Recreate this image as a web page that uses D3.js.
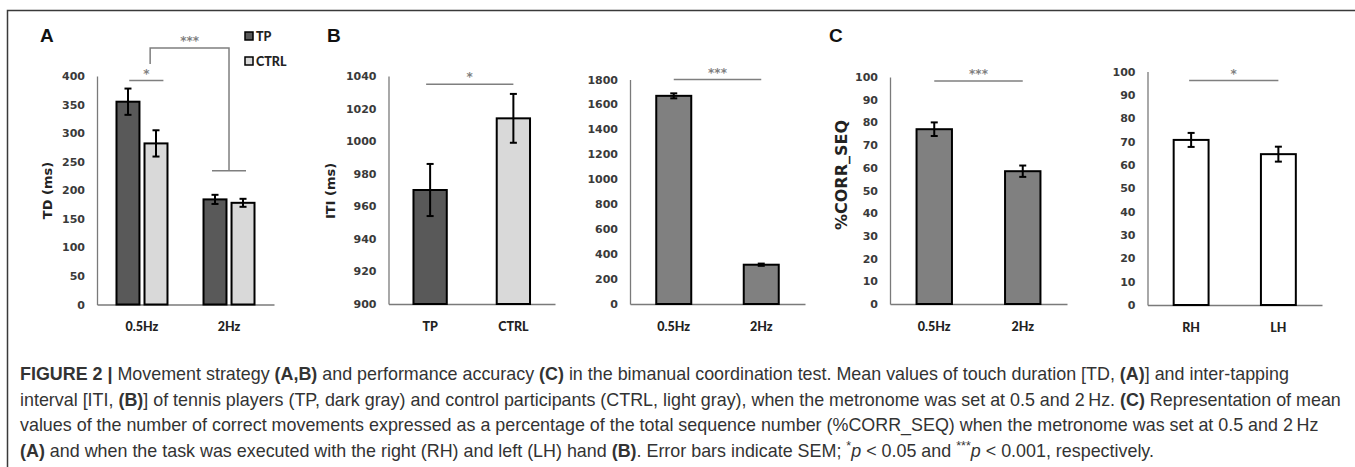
<!DOCTYPE html>
<html>
<head>
<meta charset="utf-8">
<script src="https://cdn.jsdelivr.net/npm/d3@7/dist/d3.min.js"></script>
<style>
body { margin: 0; background: #fff; }
</style>
</head>
<body>
<svg id="fig"></svg>
<script>
// panel A: touch duration
var tdGroups = ["0.5Hz", "2Hz"];
var tdSeries = ["TP", "CTRL"];
var tdTP = [355, 184];
var tdTPSem = [23, 8];
var tdCTRL = [282, 178];
var tdCTRLSem = [23, 7];
var tdTicks = [0, 50, 100, 150, 200, 250, 300, 350, 400];

// panel B: inter-tapping interval
var itiGroups = ["TP", "CTRL"];
var itiGroupVals = [970, 1014];
var itiGroupSem = [16, 15];
var itiGroupTicks = [900, 920, 940, 960, 980, 1000, 1020, 1040];

var itiFreqs = ["0.5Hz", "2Hz"];
var itiFreqVals = [1669, 315];
var itiFreqSem = [20, 9];
var itiFreqTicks = [0, 200, 400, 600, 800, 1000, 1200, 1400, 1600, 1800];

// panel C: % correct sequences
var corrFreqs = ["0.5Hz", "2Hz"];
var corrFreqVals = [77, 58.5];
var corrFreqSem = [3, 2.5];
var corrHands = ["RH", "LH"];
var corrHandVals = [70.7, 64.6];
var corrHandSem = [3, 3.2];
var pctTicks = [0, 10, 20, 30, 40, 50, 60, 70, 80, 90, 100];

var colors = {TP: "#595959", CTRL: "#d9d9d9", mid: "#808080", white: "#ffffff"};
var sigColor = "#7f7f7f";
var tickFont = "DejaVu Sans, sans-serif";
var catFont = "Lato, sans-serif";

var width = 1355, height = 467;
var svg = d3.select("#fig")
    .attr("width", width)
    .attr("height", height);

// frame round the figure
svg.append("path")
    .attr("d", "M7.5," + height + "V10.5H" + width)
    .attr("fill", "none")
    .attr("stroke", "#3a3a3a")
    .attr("stroke-width", 1.5);

function drawAxes(g, x, y, ticks, bottom) {
    var ya = g.append("g")
        .attr("transform", "translate(" + x.range()[0] + ",0)")
        .call(d3.axisLeft(y).tickValues(ticks).tickFormat(d3.format("d"))
            .tickSize(0).tickSizeOuter(0).tickPadding(12));
    ya.select(".domain").attr("stroke", "#7a7a7a").attr("stroke-width", 1.3);
    ya.selectAll("text")
        .attr("font-family", tickFont)
        .attr("font-weight", "bold")
        .attr("font-size", 11)
        .attr("fill", "#3a3a3a");

    var xa = g.append("g")
        .attr("transform", "translate(0," + bottom + ")")
        .call(d3.axisBottom(x).tickSize(0).tickSizeOuter(0).tickPadding(18));
    xa.select(".domain").attr("stroke", "#7a7a7a").attr("stroke-width", 1.3);
    xa.selectAll("text")
        .attr("font-family", catFont)
        .attr("font-weight", "900")
        .attr("font-size", 12.5)
        .attr("fill", "#222");
}

function errorBar(g, cx, y, v, s) {
    g.append("line")
        .attr("x1", cx).attr("x2", cx)
        .attr("y1", y(v - s)).attr("y2", y(v + s))
        .attr("stroke", "#000").attr("stroke-width", 2);
    [v - s, v + s].forEach(function (e) {
        g.append("line")
            .attr("x1", cx - 3.5).attr("x2", cx + 3.5)
            .attr("y1", y(e)).attr("y2", y(e))
            .attr("stroke", "#000").attr("stroke-width", 2);
    });
}

function sigLine(g, x1, x2, yy, stars) {
    g.append("line")
        .attr("x1", x1).attr("x2", x2)
        .attr("y1", yy).attr("y2", yy)
        .attr("stroke", sigColor).attr("stroke-width", 1.5);
    g.append("text")
        .attr("x", (x1 + x2) / 2)
        .attr("y", yy - 3)
        .attr("text-anchor", "middle")
        .attr("font-family", tickFont)
        .attr("font-weight", "bold")
        .attr("font-size", 12)
        .attr("fill", sigColor)
        .text(stars);
}

function yLabel(text, cx, cy, size) {
    svg.append("text")
        .attr("transform", "translate(" + cx + "," + cy + ") rotate(-90)")
        .attr("text-anchor", "middle")
        .attr("dominant-baseline", "central")
        .attr("font-family", tickFont)
        .attr("font-weight", "bold")
        .attr("font-size", size)
        .attr("fill", "#222")
        .text(text);
}

function panelLetter(text, px) {
    svg.append("text")
        .attr("x", px).attr("y", 42)
        .attr("font-family", "Liberation Sans, Arial, sans-serif")
        .attr("font-weight", "bold")
        .attr("font-size", 19)
        .attr("fill", "#111")
        .text(text);
}

// simple two-bar panel
function simplePanel(cats, vals, sem, ticks, box, fill, sig) {
    var g = svg.append("g");
    var y = d3.scaleLinear()
        .domain([ticks[0], ticks[ticks.length - 1]])
        .range([box.bottom, box.top]);
    var x = d3.scaleBand()
        .domain(cats)
        .range([box.left, box.right])
        .paddingInner(0.6)
        .paddingOuter(0.3);
    drawAxes(g, x, y, ticks, box.bottom);
    var bw = x.bandwidth();
    g.selectAll("rect.bar")
        .data(vals)
        .enter().append("rect")
        .attr("class", "bar")
        .attr("x", function (d, i) { return x(cats[i]); })
        .attr("y", function (d) { return y(d); })
        .attr("width", bw)
        .attr("height", function (d) { return y(ticks[0]) - y(d); })
        .attr("fill", function (d, i) { return Array.isArray(fill) ? fill[i] : fill; })
        .attr("stroke", "#000")
        .attr("stroke-width", 2);
    vals.forEach(function (v, i) {
        errorBar(g, x(cats[i]) + bw / 2, y, v, sem[i]);
    });
    sigLine(g, x(cats[0]) + bw / 2 + sig.off, x(cats[1]) + bw / 2, y(sig.at), sig.stars);
}

// ---- panel A (grouped) ----
(function () {
    var g = svg.append("g");
    var box = {left: 97, right: 274, top: 76, bottom: 304.5};
    var y = d3.scaleLinear()
        .domain([tdTicks[0], tdTicks[tdTicks.length - 1]])
        .range([box.bottom, box.top]);
    var x0 = d3.scaleBand()
        .domain(tdGroups)
        .range([box.left, box.right])
        .paddingInner(0.414)
        .paddingOuter(0.224);
    var x1 = d3.scaleBand()
        .domain(tdSeries)
        .range([0, x0.bandwidth()])
        .paddingInner(0.18);
    drawAxes(g, x0, y, tdTicks, box.bottom);

    var rows = tdGroups.map(function (grp, i) {
        return [
            {group: grp, key: "TP", value: tdTP[i], sem: tdTPSem[i]},
            {group: grp, key: "CTRL", value: tdCTRL[i], sem: tdCTRLSem[i]}
        ];
    });
    var bar = g.selectAll("g.grp")
        .data(rows)
        .enter().append("g")
        .attr("class", "grp")
        .attr("transform", function (d, i) {
            return "translate(" + x0(tdGroups[i]) + ",0)";
        });
    bar.selectAll("rect")
        .data(function (d) { return d; })
        .enter().append("rect")
        .attr("x", function (d) { return x1(d.key); })
        .attr("y", function (d) { return y(d.value); })
        .attr("width", x1.bandwidth())
        .attr("height", function (d) { return y(0) - y(d.value); })
        .attr("fill", function (d) { return colors[d.key]; })
        .attr("stroke", "#000")
        .attr("stroke-width", 2);
    rows.forEach(function (r) {
        r.forEach(function (d) {
            errorBar(g, x0(d.group) + x1(d.key) + x1.bandwidth() / 2, y, d.value, d.sem);
        });
    });

    // 0.5Hz TP vs CTRL
    var gw = x0.bandwidth();
    var a = x0("0.5Hz");
    sigLine(g, a + gw * 0.25, a + gw * 0.92, y(392), "*");
    // 0.5Hz vs 2Hz bracket
    var bx1 = a + gw * 0.66, bx2 = x0("2Hz") + gw / 2;
    g.append("path")
        .attr("d", "M" + bx1 + "," + y(421) + "V" + y(449) + "H" + bx2 + "V" + y(234) +
            "M" + (bx2 - 17) + "," + y(234) + "H" + (bx2 + 17))
        .attr("fill", "none")
        .attr("stroke", sigColor)
        .attr("stroke-width", 1.5);
    g.append("text")
        .attr("x", (bx1 + bx2) / 2)
        .attr("y", y(449) - 3)
        .attr("text-anchor", "middle")
        .attr("font-family", tickFont)
        .attr("font-weight", "bold")
        .attr("font-size", 12)
        .attr("fill", sigColor)
        .text("***");

    // legend
    var leg = g.selectAll("g.leg")
        .data(tdSeries)
        .enter().append("g")
        .attr("class", "leg")
        .attr("transform", function (d, i) { return "translate(245," + (32 + i * 25) + ")"; });
    leg.append("rect")
        .attr("width", 8).attr("height", 8)
        .attr("fill", function (d) { return colors[d]; })
        .attr("stroke", "#000").attr("stroke-width", 1.5);
    leg.append("text")
        .attr("x", 11).attr("y", 8.5)
        .attr("font-family", catFont)
        .attr("font-weight", "900")
        .attr("font-size", 12.5)
        .attr("fill", "#222")
        .text(function (d) { return d; });
})();

simplePanel(itiGroups, itiGroupVals, itiGroupSem, itiGroupTicks,
    {left: 388.5, right: 555, top: 76, bottom: 304}, [colors.TP, colors.CTRL],
    {at: 1035, stars: "*", off: -4});
simplePanel(itiFreqs, itiFreqVals, itiFreqSem, itiFreqTicks,
    {left: 630, right: 805, top: 79.5, bottom: 304}, colors.mid,
    {at: 1800, stars: "***", off: 0});
simplePanel(corrFreqs, corrFreqVals, corrFreqSem, pctTicks,
    {left: 890, right: 1067, top: 77, bottom: 304}, colors.mid,
    {at: 98.2, stars: "***", off: 0});
simplePanel(corrHands, corrHandVals, corrHandSem, pctTicks,
    {left: 1147.5, right: 1322, top: 71.5, bottom: 305}, colors.white,
    {at: 96.1, stars: "*", off: -2});

yLabel("TD (ms)", 47.5, 190.5, 13);
yLabel("ITI (ms)", 330, 191, 13);
yLabel("%CORR_SEQ", 841, 175, 16);

panelLetter("A", 40);
panelLetter("B", 327);
panelLetter("C", 829);

// caption
var captionLines = [
    [["FIGURE 2 | ", "b"], ["Movement strategy "], ["(A,B)", "b"], [" and performance accuracy "], ["(C)", "b"],
        [" in the bimanual coordination test. Mean values of touch duration [TD, "], ["(A)", "b"], ["] and inter-tapping"]],
    [["interval [ITI, "], ["(B)", "b"], ["] of tennis players (TP, dark gray) and control participants (CTRL, light gray), when the metronome was set at 0.5 and 2\u2009Hz. "],
        ["(C)", "b"], [" Representation of mean"]],
    [["values of the number of correct movements expressed as a percentage of the total sequence number (%CORR_SEQ) when the metronome was set at 0.5 and 2\u2009Hz"]],
    [["(A)", "b"], [" and when the task was executed with the right (RH) and left (LH) hand "], ["(B)", "b"],
        [". Error bars indicate SEM; "], ["*", "sup"], ["p", "i"], [" < 0.05 and "], ["***", "sup"], ["p", "i"], [" < 0.001, respectively."]]
];
var captionY = [380, 405.5, 431, 456.5];

var cap = svg.append("g")
    .attr("font-family", "Liberation Sans, Arial, sans-serif")
    .attr("font-size", 15)
    .attr("fill", "#333");
var capText = cap.selectAll("text")
    .data(captionLines)
    .enter().append("text")
    .attr("x", 20)
    .attr("y", function (d, i) { return captionY[i]; });
capText.selectAll("tspan")
    .data(function (d) { return d; })
    .enter().append("tspan")
    .attr("font-weight", function (d) { return d[1] === "b" ? "bold" : null; })
    .attr("font-style", function (d) { return d[1] === "i" ? "italic" : null; })
    .attr("font-size", function (d) { return d[1] === "sup" ? "70%" : null; })
    .attr("baseline-shift", function (d) { return d[1] === "sup" ? "super" : null; })
    .text(function (d) { return d[0]; });

// fit the caption's first line to the width it has in the figure
var firstLen = capText.node().getComputedTextLength();
cap.attr("font-size", 15 * 1270 / firstLen);
</script>
</body>
</html>
